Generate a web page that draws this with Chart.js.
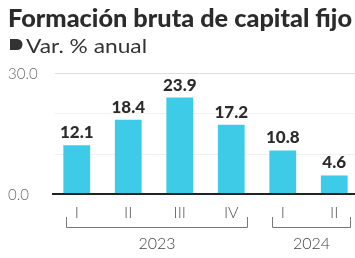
<!DOCTYPE html>
<html>
<head>
<meta charset="utf-8">
<script src="https://cdn.jsdelivr.net/npm/chart.js@4/dist/chart.umd.min.js"></script>
<style>
  html, body { margin: 0; padding: 0; background: #fff; overflow: hidden; }
  #wrap { position: relative; width: 360px; height: 258px; }
</style>
</head>
<body>
<div id="wrap"><canvas id="chart" width="360" height="258"></canvas></div>
<script>
const quarters = ["I", "II", "III", "IV", "I", "II"];
const values = [12.1, 18.4, 23.9, 17.2, 10.8, 4.6];
const years = [
  { label: "2023", from: 0, to: 3 },
  { label: "2024", from: 4, to: 5 }
];
const yTicks = [0, 10, 20, 30];
const yLabels = ["0.0", "", "", "30.0"];

const title = "Formación bruta de capital fijo";
const subtitle = "Var. % anual";

const decor = {
  id: "decor",
  beforeDatasetsDraw(chart) {
    const ctx = chart.ctx;
    const ys = chart.scales.y;
    const area = chart.chartArea;
    ctx.save();
    // grid lines
    yTicks.forEach(t => {
      if (t === 0) return;
      const y = Math.round(ys.getPixelForValue(t)) + 0.5;
      ctx.strokeStyle = t === 30 ? "#dedede" : "#f0f0f0";
      ctx.lineWidth = 1;
      ctx.beginPath();
      ctx.moveTo(55, y);
      ctx.lineTo(area.right, y);
      ctx.stroke();
    });
    // y labels
    ctx.fillStyle = "#6a6a6a";
    ctx.font = "300 15px Lato";
    ctx.textAlign = "left";
    ctx.textBaseline = "alphabetic";
    yTicks.forEach((t, i) => {
      if (!yLabels[i]) return;
      ctx.fillText(yLabels[i], 8, ys.getPixelForValue(t) + 6);
    });
    ctx.restore();
  },
  afterDatasetsDraw(chart) {
    const ctx = chart.ctx;
    const xs = chart.scales.x, ys = chart.scales.y;
    const area = chart.chartArea;
    ctx.save();
    // baseline
    const y0 = ys.getPixelForValue(0);
    ctx.strokeStyle = "#222";
    ctx.lineWidth = 2;
    ctx.beginPath();
    ctx.moveTo(52, y0);
    ctx.lineTo(area.right, y0);
    ctx.stroke();

    // value labels
    ctx.fillStyle = "#2b2b2b";
    ctx.font = "900 17px Lato";
    ctx.textAlign = "center";
    ctx.textBaseline = "alphabetic";
    values.forEach((v, i) => {
      ctx.fillText(v.toFixed(1), xs.getPixelForValue(i), ys.getPixelForValue(v) - 7);
    });

    // quarter ticks
    ctx.fillStyle = "#555";
    ctx.font = "300 16px Lato";
    quarters.forEach((q, i) => {
      ctx.fillText(q, xs.getPixelForValue(i), y0 + 24);
    });

    // year brackets
    ctx.strokeStyle = "#777";
    ctx.lineWidth = 1;
    ctx.fillStyle = "#444";
    ctx.font = "300 16px Lato";
    years.forEach(yr => {
      const l = Math.round(xs.getPixelForValue(yr.from) - 11) + 0.5;
      const r = Math.round(xs.getPixelForValue(yr.to) + 16) + 0.5;
      const yb = y0 + 33.5;
      ctx.beginPath();
      ctx.moveTo(l, y0 + 23);
      ctx.lineTo(l, yb);
      ctx.lineTo(r, yb);
      ctx.lineTo(r, y0 + 23);
      ctx.stroke();
      ctx.fillText(yr.label, (l + r) / 2, y0 + 55);
    });

    // title
    ctx.fillStyle = "#2b2b2b";
    ctx.textAlign = "left";
    ctx.font = "900 24px Lato";
    const tw = ctx.measureText(title).width;
    ctx.save();
    ctx.translate(8, 27);
    ctx.scale(344 / tw, 1);
    ctx.fillText(title, 0, 0);
    ctx.restore();

    // subtitle with marker
    ctx.fillStyle = "#333";
    ctx.beginPath();
    ctx.moveTo(10, 39);
    ctx.lineTo(17, 39);
    ctx.arc(17, 44.5, 5.5, -Math.PI / 2, Math.PI / 2);
    ctx.lineTo(10, 50);
    ctx.closePath();
    ctx.fill();
    ctx.font = "19px Lato";
    const sw = ctx.measureText(subtitle).width;
    ctx.save();
    ctx.translate(26, 53);
    ctx.scale(121 / sw, 1);
    ctx.fillText(subtitle, 0, 0);
    ctx.restore();
    ctx.restore();
  }
};

new Chart(document.getElementById("chart"), {
  type: "bar",
  data: {
    labels: quarters.map((q, i) => i < 4 ? "2023 " + q : "2024 " + q),
    datasets: [{
      data: values,
      backgroundColor: "#3ecbe8",
      barPercentage: 0.52,
      categoryPercentage: 1
    }]
  },
  options: {
    responsive: false,
    animation: false,
    layout: { padding: { left: 51, right: 0, top: 73, bottom: 64 } },
    plugins: {
      legend: { display: false },
      tooltip: { enabled: false }
    },
    scales: {
      x: { display: false },
      y: { display: false, min: 0, max: 30 }
    }
  },
  plugins: [decor]
});
</script>
</body>
</html>
